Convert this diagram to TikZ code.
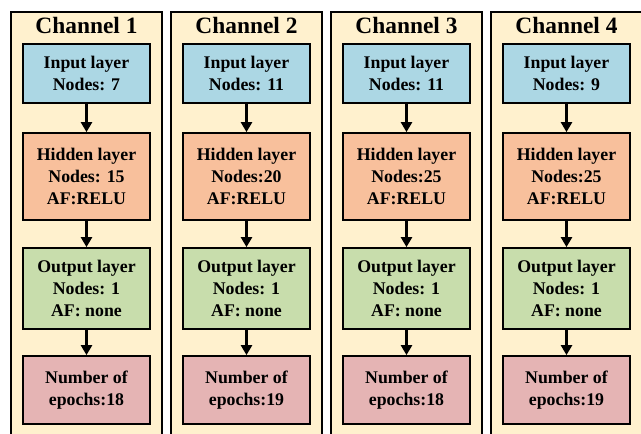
\documentclass[tikz,border=0pt]{standalone}
\usepackage{fontspec}
\setmainfont{Liberation Serif}
\usetikzlibrary{arrows.meta}

\definecolor{chanbg}{RGB}{255,241,206}
\definecolor{inblue}{RGB}{172,215,228}
\definecolor{hidorange}{RGB}{248,192,156}
\definecolor{outgreen}{RGB}{200,221,172}
\definecolor{epochpink}{RGB}{229,180,180}

\tikzset{
  chanframe/.style={draw=black, line width=2pt, fill=chanbg},
  layerbox/.style={draw=black, line width=1.8pt, minimum width=127pt,
    align=center, inner sep=0pt, font=\bfseries\fontsize{17.8}{22}\selectfont},
  inbox/.style={layerbox, fill=inblue, minimum height=59pt},
  hidbox/.style={layerbox, fill=hidorange, minimum height=87pt},
  outbox/.style={layerbox, fill=outgreen, minimum height=81pt},
  epbox/.style={layerbox, fill=epochpink, minimum height=68pt},
  chantitle/.style={anchor=base, inner sep=0pt, font=\bfseries\fontsize{23.4}{28}\selectfont},
  flow/.style={line width=2.6pt, -{Triangle[length=10pt,width=11pt]}}
}

\begin{document}
\begin{tikzpicture}[x=1pt,y=-1pt]
\useasboundingbox (0,0) rectangle (641,434);
\clip (0,0) rectangle (641,434);
\fill[white] (0,0) rectangle (641,434);

\foreach \i/\nin/\nhid/\ep in {1/7/15/18, 2/11/20/19, 3/11/25/18, 4/9/25/19}{
  \pgfmathsetmacro{\xl}{11+160*(\i-1)}
  \pgfmathsetmacro{\cx}{\xl+75.5}
  % channel container
  \draw[chanframe] (\xl,12) rectangle ++(151,450);
  \node[chantitle] (title\i) at (\cx,33) {Channel \i};
  % layer stack
  \node[inbox]  (in\i)  at (\cx,73.5)  {Input layer\\Nodes: \nin};
  \ifnum\i=1
    \node[hidbox] (hid\i) at (\cx,176.5) {Hidden layer\\Nodes: \nhid\\AF:RELU};
  \else
    \node[hidbox] (hid\i) at (\cx,176.5) {Hidden layer\\Nodes:\nhid\\AF:RELU};
  \fi
  \node[outbox] (out\i) at (\cx,288.5) {Output layer\\Nodes: 1\\AF: none};
  \node[epbox]  (ep\i)  at (\cx,390)   {Number of\\epochs:\ep};
  % connectors
  \draw[flow] (in\i) -- (hid\i);
  \draw[flow] (hid\i) -- (out\i);
  \draw[flow] (out\i) -- (ep\i);
}
\end{tikzpicture}
\end{document}
